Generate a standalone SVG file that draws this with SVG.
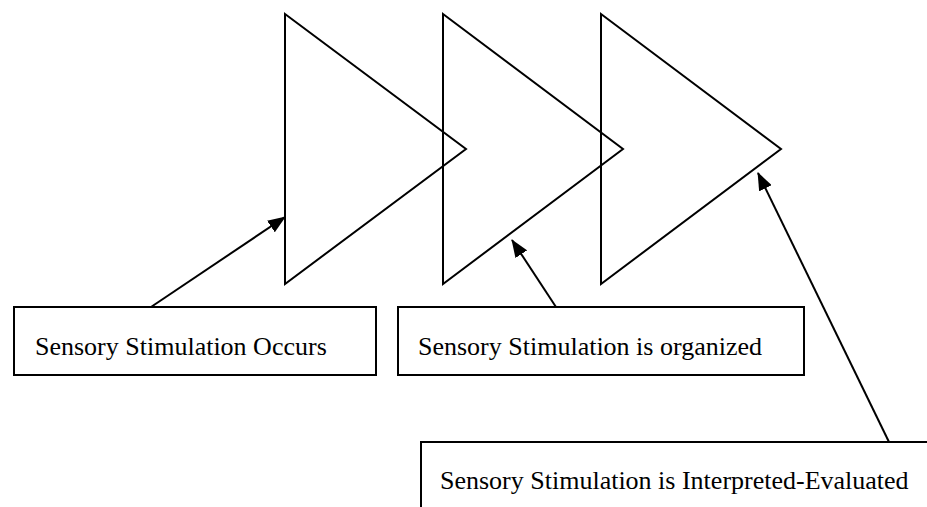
<svg xmlns="http://www.w3.org/2000/svg" width="927" height="507" viewBox="0 0 927 507">
  <style>
    .tri { fill: none; stroke: #000; stroke-width: 2; stroke-linejoin: miter; }
    .box rect { fill: #fff; stroke: #000; stroke-width: 2; }
    .box text { font-family: "Liberation Serif", "Times New Roman", serif; font-size: 26px; fill: #000; }
    .conn line { stroke: #000; stroke-width: 2; marker-end: url(#arrow); }
  </style>
  <defs>
    <marker id="arrow" markerWidth="18" markerHeight="14" refX="17" refY="7" orient="auto" markerUnits="userSpaceOnUse">
      <path d="M0,0 L18,7 L0,14 z" fill="#000"/>
    </marker>
  </defs>
  <rect width="927" height="507" fill="#fff"/>

  <!-- three stage chevrons -->
  <g id="stage1"><polygon class="tri" points="285,14 466,149 285,284"/></g>
  <g id="stage2"><polygon class="tri" points="443,14 623,149 443,284"/></g>
  <g id="stage3"><polygon class="tri" points="601,14 781,149 601,284"/></g>

  <!-- label boxes -->
  <g id="occurs" class="box">
    <rect x="14" y="307" width="362" height="68"/>
    <text x="35" y="355">Sensory Stimulation Occurs</text>
  </g>
  <g id="organized" class="box">
    <rect x="398" y="307" width="406" height="68"/>
    <text x="418" y="355">Sensory Stimulation is organized</text>
  </g>
  <g id="interpreted" class="box">
    <rect x="421" y="442" width="530" height="100"/>
    <text x="440" y="489">Sensory Stimulation is Interpreted-Evaluated</text>
  </g>

  <!-- connectors -->
  <g id="connectors" class="conn">
    <line x1="151" y1="307" x2="285" y2="217"/>
    <line x1="556" y1="307" x2="512" y2="240"/>
    <line x1="889" y1="442" x2="758" y2="173"/>
  </g>
</svg>
